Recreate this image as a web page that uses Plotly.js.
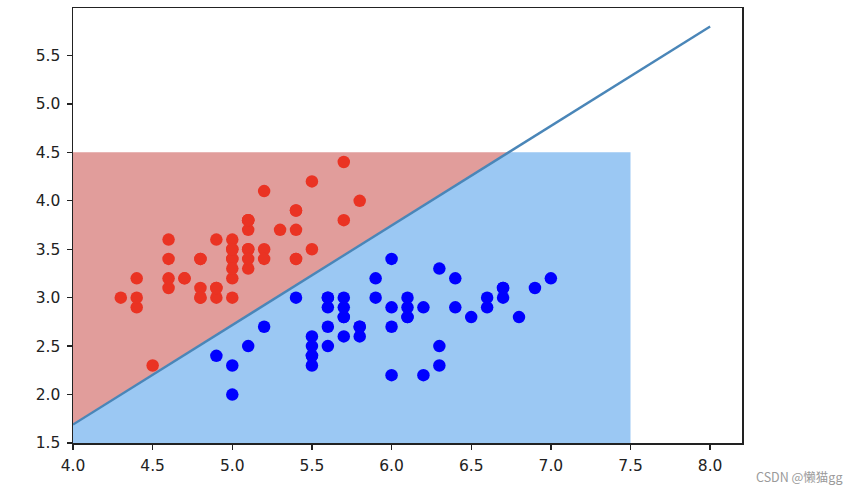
<!DOCTYPE html>
<html>
<head>
<meta charset="utf-8">
<script src="https://cdn.plot.ly/plotly-3.0.1.min.js"></script>
<style>html,body{margin:0;padding:0;background:#fff;}#chart{width:858px;height:494px;}</style>
</head>
<body>
<div id="chart"></div>
<script>
// Class 0 (red): sepal length / sepal width
const redX = [5.1,4.9,4.7,4.6,5.0,5.4,4.6,5.0,4.4,4.9,5.4,4.8,4.8,4.3,5.8,5.7,5.4,5.1,5.7,5.1,5.4,5.1,4.6,5.1,4.8,5.0,5.0,5.2,5.2,4.7,4.8,5.4,5.2,5.5,4.9,5.0,5.5,4.9,4.4,5.1,5.0,4.5,4.4,5.0,5.1,4.8,5.1,4.6,5.3,5.0];
const redY = [3.5,3.0,3.2,3.1,3.6,3.9,3.4,3.4,2.9,3.1,3.7,3.4,3.0,3.0,4.0,4.4,3.9,3.5,3.8,3.8,3.4,3.7,3.6,3.3,3.4,3.0,3.4,3.5,3.4,3.2,3.1,3.4,4.1,4.2,3.1,3.2,3.5,3.6,3.0,3.4,3.5,2.3,3.2,3.5,3.8,3.0,3.8,3.2,3.7,3.3];
// Class 1 (blue)
const blueX = [7.0,6.4,6.9,5.5,6.5,5.7,6.3,4.9,6.6,5.2,5.0,5.9,6.0,6.1,5.6,6.7,5.6,5.8,6.2,5.6,5.9,6.1,6.3,6.1,6.4,6.6,6.8,6.7,6.0,5.7,5.5,5.5,5.8,6.0,5.4,6.0,6.7,6.3,5.6,5.5,5.5,6.1,5.8,5.0,5.6,5.7,5.7,6.2,5.1,5.7];
const blueY = [3.2,3.2,3.1,2.3,2.8,2.8,3.3,2.4,2.9,2.7,2.0,3.0,2.2,2.9,2.9,3.1,3.0,2.7,2.2,2.5,3.2,2.8,2.5,2.8,2.9,3.0,2.8,3.0,2.9,2.6,2.4,2.4,2.7,2.7,3.0,3.4,3.1,2.3,3.0,2.5,2.6,3.0,2.6,2.3,2.7,3.0,2.9,2.9,2.5,2.8];
// Decision boundary y = intercept + slope * x
const boundaryIntercept = -2.42;
const boundarySlope = 1.0275;
const boundaryXRange = [4.0, 8.0];
// Region grid extents
const gridX = [4.0, 7.5];
const gridY = [1.5, 4.5];
// Axis ticks
const xTicks = [4.0,4.5,5.0,5.5,6.0,6.5,7.0,7.5,8.0];
const yTicks = [1.5,2.0,2.5,3.0,3.5,4.0,4.5,5.0,5.5];

const f = x => boundaryIntercept + boundarySlope * x;
const xCross = (gridY[1] - boundaryIntercept) / boundarySlope;

const redRegion = {
  x: [gridX[0], xCross, gridX[0], gridX[0]],
  y: [f(gridX[0]), gridY[1], gridY[1], f(gridX[0])],
  type: 'scatter', mode: 'lines', fill: 'toself', fillcolor: '#E19D9B',
  line: {width: 0, color: '#E19D9B'}, hoverinfo: 'skip', showlegend: false
};
const blueRegion = {
  x: [gridX[0], gridX[1], gridX[1], xCross, gridX[0], gridX[0]],
  y: [gridY[0], gridY[0], gridY[1], gridY[1], f(gridX[0]), gridY[0]],
  type: 'scatter', mode: 'lines', fill: 'toself', fillcolor: '#9BC8F3',
  line: {width: 0, color: '#9BC8F3'}, hoverinfo: 'skip', showlegend: false
};
const redPts = {x: redX, y: redY, type: 'scatter', mode: 'markers',
  marker: {color: '#EA3323', size: 12.5}, showlegend: false};
const bluePts = {x: blueX, y: blueY, type: 'scatter', mode: 'markers',
  marker: {color: '#0000FF', size: 12.5}, showlegend: false};
const boundary = {x: boundaryXRange, y: boundaryXRange.map(f), type: 'scatter', mode: 'lines',
  line: {color: '#4A86B8', width: 2.4}, showlegend: false};

const axisCommon = {
  showgrid: false, zeroline: false, showline: true, mirror: true,
  linecolor: '#222222', linewidth: 1.5,
  ticks: 'outside', ticklen: 5, tickwidth: 1.3, tickcolor: '#222222',
  ticklabelstandoff: 3,
  tickfont: {family: 'DejaVu Sans', size: 15.5, color: '#222222'}
};
const layout = {
  width: 858, height: 494,
  margin: {l: 73, r: 116, t: 8, b: 51},
  paper_bgcolor: '#ffffff', plot_bgcolor: '#ffffff',
  xaxis: Object.assign({}, axisCommon, {range: [4.0, 8.2], tickvals: xTicks, ticktext: xTicks.map(v => v.toFixed(1))}),
  yaxis: Object.assign({}, axisCommon, {range: [1.5, 5.99], tickvals: yTicks, ticktext: yTicks.map(v => v.toFixed(1))}),
  annotations: [{
    text: 'CSDN @懒猫gg', xref: 'paper', yref: 'paper', x: 1.153, y: -0.077,
    xanchor: 'right', yanchor: 'middle', showarrow: false,
    font: {family: 'Noto Sans CJK SC', size: 12.5, color: '#9a9a9a'}
  }]
};
Plotly.newPlot('chart', [redRegion, blueRegion, redPts, bluePts, boundary], layout, {displayModeBar: false, staticPlot: true});
</script>
</body>
</html>
